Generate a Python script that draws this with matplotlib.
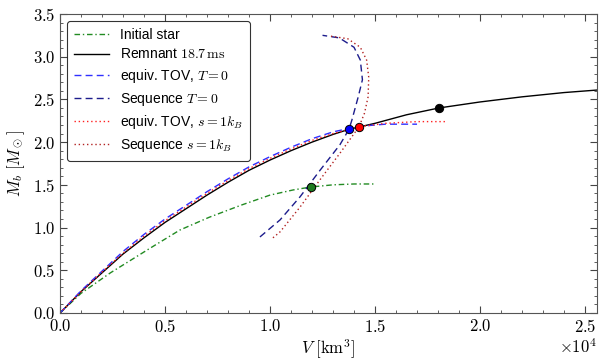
import numpy as np
import matplotlib
matplotlib.use('Agg')
import matplotlib.pyplot as plt
from matplotlib.ticker import MultipleLocator, FuncFormatter

# volumes in km^3, baryon masses in M_sun
init_V = [0, 1000, 2400, 4300, 5700, 7100, 8600, 10000, 11100, 11950, 13000, 14000, 15000]
init_M = [0, 0.23, 0.47, 0.76, 0.97, 1.12, 1.26, 1.38, 1.44, 1.475, 1.50, 1.51, 1.51]

rem_V = [0, 1000, 2000, 3000, 4000, 5000, 6000, 7000, 8000, 9000, 10000, 11000, 12000,
         13000, 13760, 15000, 16500, 18050, 20000, 22000, 24000, 25600]
rem_M = [0, 0.25, 0.47, 0.69, 0.88, 1.06, 1.22, 1.38, 1.53, 1.67, 1.79, 1.90, 2.00,
         2.09, 2.15, 2.22, 2.32, 2.40, 2.47, 2.53, 2.58, 2.61]

tov0_V = [0, 1000, 2000, 3000, 4000, 5000, 6000, 7000, 8000, 9000, 10000, 11000, 12000,
          13000, 13760, 14500, 15500, 17000]
tov0_M = [0, 0.26, 0.49, 0.72, 0.92, 1.10, 1.26, 1.42, 1.57, 1.71, 1.83, 1.94, 2.04,
          2.12, 2.16, 2.19, 2.21, 2.21]

seq0_V = [9520, 10480, 11430, 12380, 13330, 13760, 13900, 14200, 14400, 14300, 14000, 13300, 12500]
seq0_M = [0.89, 1.09, 1.36, 1.67, 1.97, 2.15, 2.26, 2.53, 2.73, 2.96, 3.11, 3.22, 3.25]

tovs_V = [0, 1000, 2000, 3000, 4000, 5000, 6000, 7000, 8000, 9000, 10000, 11000, 12000,
          13000, 14240, 15500, 17000, 18400]
tovs_M = [0, 0.25, 0.48, 0.70, 0.90, 1.08, 1.24, 1.40, 1.55, 1.69, 1.81, 1.92, 2.02,
          2.10, 2.18, 2.22, 2.24, 2.24]

seqs_V = [10140, 10480, 11430, 12380, 13330, 14240, 14500, 14670, 14700, 14600, 14300, 13700, 12900]
seqs_M = [0.88, 0.95, 1.24, 1.56, 1.87, 2.18, 2.34, 2.53, 2.76, 2.96, 3.11, 3.21, 3.24]

dots_V = [11950, 13760, 14240, 18050]
dots_M = [1.475, 2.15, 2.18, 2.40]
dots_c = ['#1f7a1f', '#0000ff', '#ff0000', 'black']


def main():
    plt.rcParams['font.family'] = ['Liberation Sans', 'DejaVu Sans']
    plt.rcParams['mathtext.fontset'] = 'cm'

    fig = plt.figure(figsize=(6.02, 3.6), dpi=100)
    ax = fig.add_axes([0.0997, 0.1306, 0.892, 0.8306])

    s = 1e4
    ax.plot(np.array(init_V) / s, init_M, color='#228b22', ls=(0, (4, 2, 1, 2)), lw=1, label='Initial star')
    ax.plot(np.array(rem_V) / s, rem_M, color='black', lw=1, label=r'Remnant $18.7\,\mathrm{ms}$')
    ax.plot(np.array(tov0_V) / s, tov0_M, color='#3030ff', ls=(0, (5, 3)), lw=1, label=r'equiv. TOV, $T=0$')
    ax.plot(np.array(seq0_V) / s, seq0_M, color='#1c1c8c', ls=(0, (5, 3)), lw=1, label=r'Sequence $T=0$')
    ax.plot(np.array(tovs_V) / s, tovs_M, color='#ff2020', ls=(0, (1, 2)), lw=1, label=r'equiv. TOV, $s=1k_B$')
    ax.plot(np.array(seqs_V) / s, seqs_M, color='#b22222', ls=(0, (1, 2)), lw=1, label=r'Sequence $s=1k_B$')

    for v, m, c in zip(dots_V, dots_M, dots_c):
        ax.plot(v / s, m, 'o', color=c, mec='black', mew=0.7, ms=6, zorder=5)

    ax.set_xlim(0, 2.557)
    ax.set_ylim(0, 3.5)
    ax.xaxis.set_major_locator(MultipleLocator(0.5))
    ax.xaxis.set_minor_locator(MultipleLocator(0.1))
    ax.yaxis.set_major_locator(MultipleLocator(0.5))
    ax.yaxis.set_minor_locator(MultipleLocator(0.1))
    fmt = FuncFormatter(lambda v, p: r'$%.1f$' % v)
    ax.xaxis.set_major_formatter(fmt)
    ax.yaxis.set_major_formatter(fmt)
    ax.tick_params(which='both', direction='in', top=True, right=True, labelsize=12, color='#444444')
    ax.tick_params(which='major', length=5)
    ax.tick_params(which='minor', length=2.5)
    for sp in ax.spines.values():
        sp.set_color('#555555')

    ax.set_xlabel(r'$V\ [\mathrm{km}^3]$', fontsize=12, labelpad=2)
    ax.set_ylabel(r'$M_b\ [M_\odot]$', fontsize=12, labelpad=4)
    ax.text(1.0, -0.08, r'$\times10^{4}$', transform=ax.transAxes, ha='right', va='top', fontsize=12)

    leg = ax.legend(loc='upper left', fontsize=10, frameon=True, fancybox=True,
                    edgecolor='black', handlelength=2.5, borderpad=0.5, labelspacing=0.4)
    leg.get_frame().set_linewidth(0.8)

    plt.savefig('out.png', dpi=100)


if __name__ == '__main__':
    main()
